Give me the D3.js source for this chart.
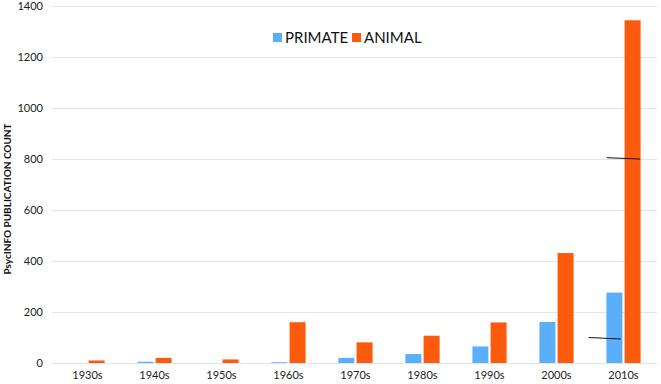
<!DOCTYPE html>
<html>
<head>
<meta charset="utf-8">
<script src="https://cdn.jsdelivr.net/npm/d3@7"></script>
<style>
    body { margin: 0; background: #fff; }
    text { font-family: Lato, "Open Sans", sans-serif; }
</style>
</head>
<body>
<div id="chart"></div>
<script>
var decades = ["1930s", "1940s", "1950s", "1960s", "1970s", "1980s", "1990s", "2000s", "2010s"];
var primate = [0, 5, 0, 3, 20, 35, 65, 161, 276];
var animal = [10, 20, 14, 160, 81, 107, 159, 431, 1344];
var yTicks = [0, 200, 400, 600, 800, 1000, 1200, 1400];
var seriesNames = ["PRIMATE", "ANIMAL"];
var colors = ["#5aaefa", "#fc5a0c"];

var W = 661, H = 384;
var margin = { top: 6, right: 4, bottom: 21, left: 54 },
    width = W - margin.left - margin.right,
    height = H - margin.top - margin.bottom;

var svg = d3.select("#chart").append("svg")
    .attr("width", W)
    .attr("height", H)
    .append("g")
    .attr("transform", "translate(" + margin.left + "," + margin.top + ")");

var x = d3.scaleBand().domain(decades).range([0, width]).padding(0);
var y = d3.scaleLinear().domain([0, 1400]).range([height, 0]);

// inner scale for the two bars of a group
var x1 = d3.scaleBand().domain(seriesNames).range([x.bandwidth() * 0.245, x.bandwidth() * 0.755]).paddingInner(0.12);

// gridlines
svg.append("g")
    .selectAll("line")
    .data(yTicks)
    .enter().append("line")
    .attr("x1", -2)
    .attr("x2", width)
    .attr("y1", d => y(d) + 0.5)
    .attr("y2", d => y(d) + 0.5)
    .attr("stroke", "#e3e6e8")
    .attr("stroke-width", 1);

// y tick labels
svg.append("g")
    .selectAll("text")
    .data(yTicks)
    .enter().append("text")
    .attr("x", -11)
    .attr("y", d => y(d))
    .attr("dy", ".35em")
    .attr("text-anchor", "end")
    .attr("font-size", "11px")
    .attr("fill", "#222")
    .text(d => d);

// x labels
svg.append("g")
    .selectAll("text")
    .data(decades)
    .enter().append("text")
    .attr("x", d => x(d) + x.bandwidth() / 2)
    .attr("y", height + 16)
    .attr("text-anchor", "middle")
    .attr("font-size", "11px")
    .attr("fill", "#222")
    .text(d => d);

// bars
var rows = decades.map((d, i) => ({ decade: d, values: [primate[i], animal[i]] }));
var groups = svg.append("g").selectAll("g")
    .data(rows)
    .enter().append("g")
    .attr("transform", d => "translate(" + x(d.decade) + ",0)");

groups.selectAll("rect")
    .data(d => d.values.map((v, j) => ({ key: seriesNames[j], value: v, j: j })))
    .enter().append("rect")
    .attr("x", d => x1(d.key))
    .attr("y", d => y(d.value))
    .attr("width", x1.bandwidth())
    .attr("height", d => y(0) - y(d.value))
    .attr("fill", d => colors[d.j]);

// stray annotation strokes seen in the figure (relative to the 2010s band)
var strokes = [
    { dx0: 0.25, dx1: 0.75, v0: 805, v1: 800 },
    { dx0: -0.02, dx1: 0.46, v0: 100, v1: 94 }
];
svg.append("g").selectAll("line")
    .data(strokes)
    .enter().append("line")
    .attr("x1", d => x("2010s") + x.bandwidth() * d.dx0)
    .attr("x2", d => x("2010s") + x.bandwidth() * d.dx1)
    .attr("y1", d => y(d.v0))
    .attr("y2", d => y(d.v1))
    .attr("stroke", "#111")
    .attr("stroke-width", 1);

// legend
var legend = svg.append("g").attr("transform", "translate(" + (273 - margin.left) + ",27)");
var lx = [0, 79];
seriesNames.forEach(function(name, i) {
    legend.append("rect")
        .attr("x", lx[i])
        .attr("y", 0)
        .attr("width", 9)
        .attr("height", 9)
        .attr("fill", colors[i]);
    legend.append("text")
        .attr("x", lx[i] + 12)
        .attr("y", 5)
        .attr("dy", ".35em")
        .attr("font-size", "15px")
        .attr("fill", "#111")
        .text(name);
});

// y axis title
d3.select("svg").append("text")
    .attr("transform", "translate(11," + 199 + ") rotate(-90)")
    .attr("text-anchor", "middle")
    .attr("font-size", "10px")
    .attr("font-weight", "bold")
    .attr("fill", "#111")
    .text("PsycINFO PUBLICATION COUNT");
</script>
</body>
</html>
